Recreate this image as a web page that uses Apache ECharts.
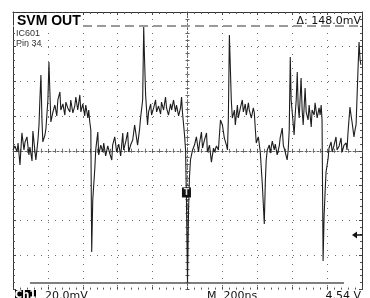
<!DOCTYPE html>
<html><head><meta charset="utf-8">
<script src="https://cdn.jsdelivr.net/npm/echarts@6/dist/echarts.min.js"></script>
<style>html,body{margin:0;padding:0;background:#fff}#c{width:370px;height:298px}</style>
</head><body><div id="c"></div>
<script>
// Time axis (ns) and voltage (mV)
const timeNs = [0,11,23,29,40,51,63,69,80,91,97,109,114,126,131,143,149,154,160,166,171,183,189,200,206,211,217,229,240,251,257,269,274,286,297,303,314,326,331,343,354,360,371,383,389,400,411,417,429,434,440,446,451,457,469,474,486,491,503,514,520,531,543,554,566,571,583,594,606,617,629,634,646,657,663,674,686,697,703,714,726,731,743,749,754,760,771,777,789,794,806,817,823,834,846,851,863,874,880,891,903,909,920,931,937,949,960,966,971,983,989,994,1000,1006,1011,1017,1029,1040,1051,1063,1069,1080,1086,1097,1109,1114,1126,1137,1149,1154,1166,1177,1189,1200,1211,1223,1229,1234,1240,1246,1251,1257,1269,1274,1286,1291,1303,1314,1320,1331,1337,1349,1354,1366,1377,1383,1389,1394,1406,1417,1429,1440,1446,1451,1457,1469,1474,1486,1497,1503,1514,1526,1531,1543,1549,1560,1571,1577,1583,1589,1594,1600,1611,1617,1623,1629,1634,1640,1651,1657,1663,1674,1680,1691,1697,1709,1714,1726,1731,1743,1754,1760,1766,1771,1777,1783,1789,1794,1806,1811,1823,1829,1840,1851,1857,1869,1880,1886,1897,1909,1914,1920,1931,1937,1943,1954,1960,1966,1971,1977,1983,1989,1994];
const voltMv = [0.5,2.8,-0.7,4.5,-8.2,10.3,0.5,5.1,8.0,-2.4,2.2,-5.9,11.4,-0.7,-5.3,6.2,14.9,29.3,43.7,17.8,5.1,9.1,13.1,29.3,51.2,35.0,16.6,22.4,26.4,20.1,29.3,33.9,23.5,27.0,20.6,28.1,24.7,22.4,29.3,21.8,25.8,31.0,23.5,32.2,22.4,27.0,20.1,26.4,18.9,23.5,16.6,12.0,-58.3,-28.4,-9.9,0.5,10.8,-2.4,3.3,-0.7,4.5,-3.0,2.8,-1.3,-5.3,3.3,8.0,-0.7,3.9,-3.0,10.3,0.5,5.1,10.8,-0.7,3.3,6.2,14.9,10.8,3.3,13.1,18.9,29.3,71.4,52.3,32.2,14.9,22.4,27.0,20.6,24.7,29.3,22.4,25.8,21.2,28.1,23.5,31.0,24.7,20.6,27.0,23.5,29.3,22.4,26.4,20.1,24.7,31.0,22.4,9.1,0.5,-28.4,-76.2,-34.1,-15.7,-5.3,0.5,3.3,8.0,-0.7,4.5,10.8,1.6,6.2,10.3,-0.7,3.3,-6.5,1.6,-0.7,2.8,0.5,17.8,14.9,7.4,3.3,0.5,17.8,66.7,46.6,29.3,18.9,23.5,14.9,26.4,18.9,24.7,29.3,22.4,27.0,20.6,27.6,23.5,18.9,24.7,21.8,12.0,4.5,8.0,-0.7,-19.7,-42.2,-17.9,-5.3,0.5,3.3,-1.3,5.6,0.5,3.9,-2.4,2.8,7.4,13.1,3.3,-0.7,-5.3,0.5,12.0,54.1,29.3,22.4,9.1,20.6,29.3,45.4,26.4,18.9,42.0,23.5,14.9,36.2,22.4,17.8,26.4,13.7,23.5,20.6,27.6,18.9,24.7,20.6,26.4,17.8,-63.5,-37.0,-22.8,-12.2,-4.2,1.6,5.1,-0.7,3.3,8.0,0.5,2.8,7.4,-0.7,3.3,4.5,0.5,10.8,25.2,20.6,16.6,8.0,12.0,14.9,29.3,46.6,62.7,52.4,49.5];

const cursorTopMv = 72.0;
const cursorBottomMv = -76.0;
const cursorBottomSpan = [97, 1897];
const triggerMarker = [994, -24.0];
const levelMarker = [1960, -48.5];

const titleText = 'SVM OUT';
const noteLines = ['IC601', 'Pin 34'];
const deltaText = 'Δ: 148.0mV';
const chText = 'Ch1';
const voltsDivText = '20.0mV';
const timeDivText = 'M  200ns';
const trigLevelText = '4.54 V';

const xMin = 0, xMax = 2000, xStep = 200;
const yMin = -80, yMax = 80, yStep = 20;

const chart = echarts.init(document.getElementById('c'), null, {renderer: 'canvas'});
const G = {left: 13, right: 8, top: 12, bottom: 8.4};
const plotH = 298 - G.top - G.bottom, plotW = 370 - G.left - G.right;

const border = {show: true, onZero: false, lineStyle: {color: '#333', width: 1}};
const noLine = {show: false, onZero: false};
const minor = (len) => ({show: true, splitNumber: 5, length: len, lineStyle: {color: '#555', width: 1}});
const tick = (inside, len, c) => ({show: true, inside: inside, length: len, lineStyle: {color: c || '#444', width: 1}});
const centerLine = {show: true, onZero: false, lineStyle: {color: '#666', width: 1, type: [2, 2]}};
const dotted = {show: true, lineStyle: {color: '#6f6f6f', width: 1, type: [1, 6]}};

function xAx(extra) {
  return Object.assign({type: 'value', min: xMin, max: xMax, interval: xStep, axisLabel: {show: false}, splitLine: {show: false}}, extra);
}
function yAx(extra) {
  return Object.assign({type: 'value', min: yMin, max: yMax, interval: yStep, axisLabel: {show: false}, splitLine: {show: false}}, extra);
}

const data = timeNs.map((t, i) => [t, voltMv[i]]);

chart.setOption({
  animation: false,
  backgroundColor: '#fff',
  grid: {left: G.left, right: G.right, top: G.top, bottom: G.bottom},
  xAxis: [
    xAx({position: 'top', axisLine: border, axisTick: tick(true, 3), minorTick: minor(2), splitLine: Object.assign({showMinLine: false, showMaxLine: false}, dotted)}),
    xAx({position: 'bottom', axisLine: noLine, axisTick: tick(true, 3), minorTick: minor(2)}),
    xAx({position: 'bottom', offset: -plotH / 2, axisLine: centerLine, axisTick: tick(false, 2, '#555'), minorTick: Object.assign(minor(2), {lineStyle: {color: '#666'}})}),
    xAx({position: 'bottom', offset: -plotH / 2, axisLine: noLine, axisTick: tick(true, 2, '#555'), minorTick: Object.assign(minor(2), {lineStyle: {color: '#666'}})})
  ],
  yAxis: [
    yAx({position: 'left', axisLine: border, axisTick: tick(true, 3), minorTick: minor(2), splitLine: Object.assign({showMinLine: false, showMaxLine: false}, dotted)}),
    yAx({position: 'right', axisLine: border, axisTick: tick(true, 3), minorTick: minor(2)}),
    yAx({position: 'left', offset: -plotW / 2, axisLine: centerLine, axisTick: tick(false, 2, '#555'), minorTick: Object.assign(minor(2), {lineStyle: {color: '#666'}})}),
    yAx({position: 'left', offset: -plotW / 2, axisLine: noLine, axisTick: tick(true, 2, '#555'), minorTick: Object.assign(minor(2), {lineStyle: {color: '#666'}})})
  ],
  series: [{
    type: 'line',
    xAxisIndex: 0, yAxisIndex: 0,
    data: data,
    showSymbol: false,
    symbol: 'none',
    lineStyle: {color: '#1e1e1e', width: 1.1},
    z: 3,
    markLine: {
      silent: true,
      symbol: ['none', 'none'],
      label: {show: false},
      lineStyle: {color: '#9a9a9a', width: 2, type: [9, 5]},
      data: [
        {yAxis: cursorTopMv},
        [
          {coord: [cursorBottomSpan[0], cursorBottomMv], lineStyle: {color: '#555', width: 1.5, type: 'solid'}},
          {coord: [cursorBottomSpan[1], cursorBottomMv], lineStyle: {color: '#555', width: 1.5, type: 'solid'}}
        ],
        [
          {coord: levelMarker, lineStyle: {color: '#111', width: 1.5, type: 'solid'}},
          {coord: [xMax, levelMarker[1]], lineStyle: {color: '#111', width: 1.5, type: 'solid'}}
        ]
      ]
    },
    markPoint: {
      silent: true,
      data: [
        {coord: triggerMarker, symbol: 'rect', symbolSize: [9, 10], itemStyle: {color: '#111'},
         label: {show: true, position: 'inside', formatter: 'T', color: '#ddd', fontSize: 8, fontWeight: 'bold', fontFamily: 'DejaVu Sans'}},
        {coord: [levelMarker[0] - 3, levelMarker[1]], symbol: 'triangle', symbolRotate: 90, symbolSize: [7, 5], itemStyle: {color: '#111'}, label: {show: false}}
      ]
    }
  }],
  graphic: [
    {type: 'rect', z: 100, shape: {x: 14, y: 13, width: 68, height: 15}, style: {fill: '#fff'}},
    {type: 'text', z: 101, x: 17, y: 14, style: {text: titleText, font: 'bold 14px "Liberation Sans", Arial, sans-serif', fill: '#000', verticalAlign: 'top'}},
    {type: 'text', z: 101, x: 16, y: 29, style: {text: noteLines[0], font: '9px "Liberation Sans", Arial, sans-serif', fill: '#333', verticalAlign: 'top'}},
    {type: 'text', z: 101, x: 16, y: 39.5, style: {text: noteLines[1], font: '9px "Liberation Sans", Arial, sans-serif', fill: '#333', verticalAlign: 'top'}},
    {type: 'text', z: 101, x: 361, y: 15.5, style: {text: deltaText, font: '11px "DejaVu Sans", sans-serif', fill: '#111', align: 'right', verticalAlign: 'top'}},
    {type: 'rect', z: 100, shape: {x: 15, y: 290, width: 21, height: 9}, style: {fill: '#000'}},
    {type: 'text', z: 101, x: 25.5, y: 290, style: {text: chText, font: 'bold 10px "DejaVu Sans", sans-serif', fill: '#fff', align: 'center', verticalAlign: 'top'}},
    {type: 'text', z: 101, x: 45, y: 290.5, style: {text: voltsDivText, font: '11px "DejaVu Sans", sans-serif', fill: '#111', verticalAlign: 'top'}},
    {type: 'text', z: 101, x: 207, y: 290.5, style: {text: timeDivText, font: '11px "DejaVu Sans", sans-serif', fill: '#111', verticalAlign: 'top'}},
    {type: 'text', z: 101, x: 361, y: 290.5, style: {text: trigLevelText, font: '11px "DejaVu Sans", sans-serif', fill: '#111', align: 'right', verticalAlign: 'top'}}
  ]
});
</script>
</body></html>
